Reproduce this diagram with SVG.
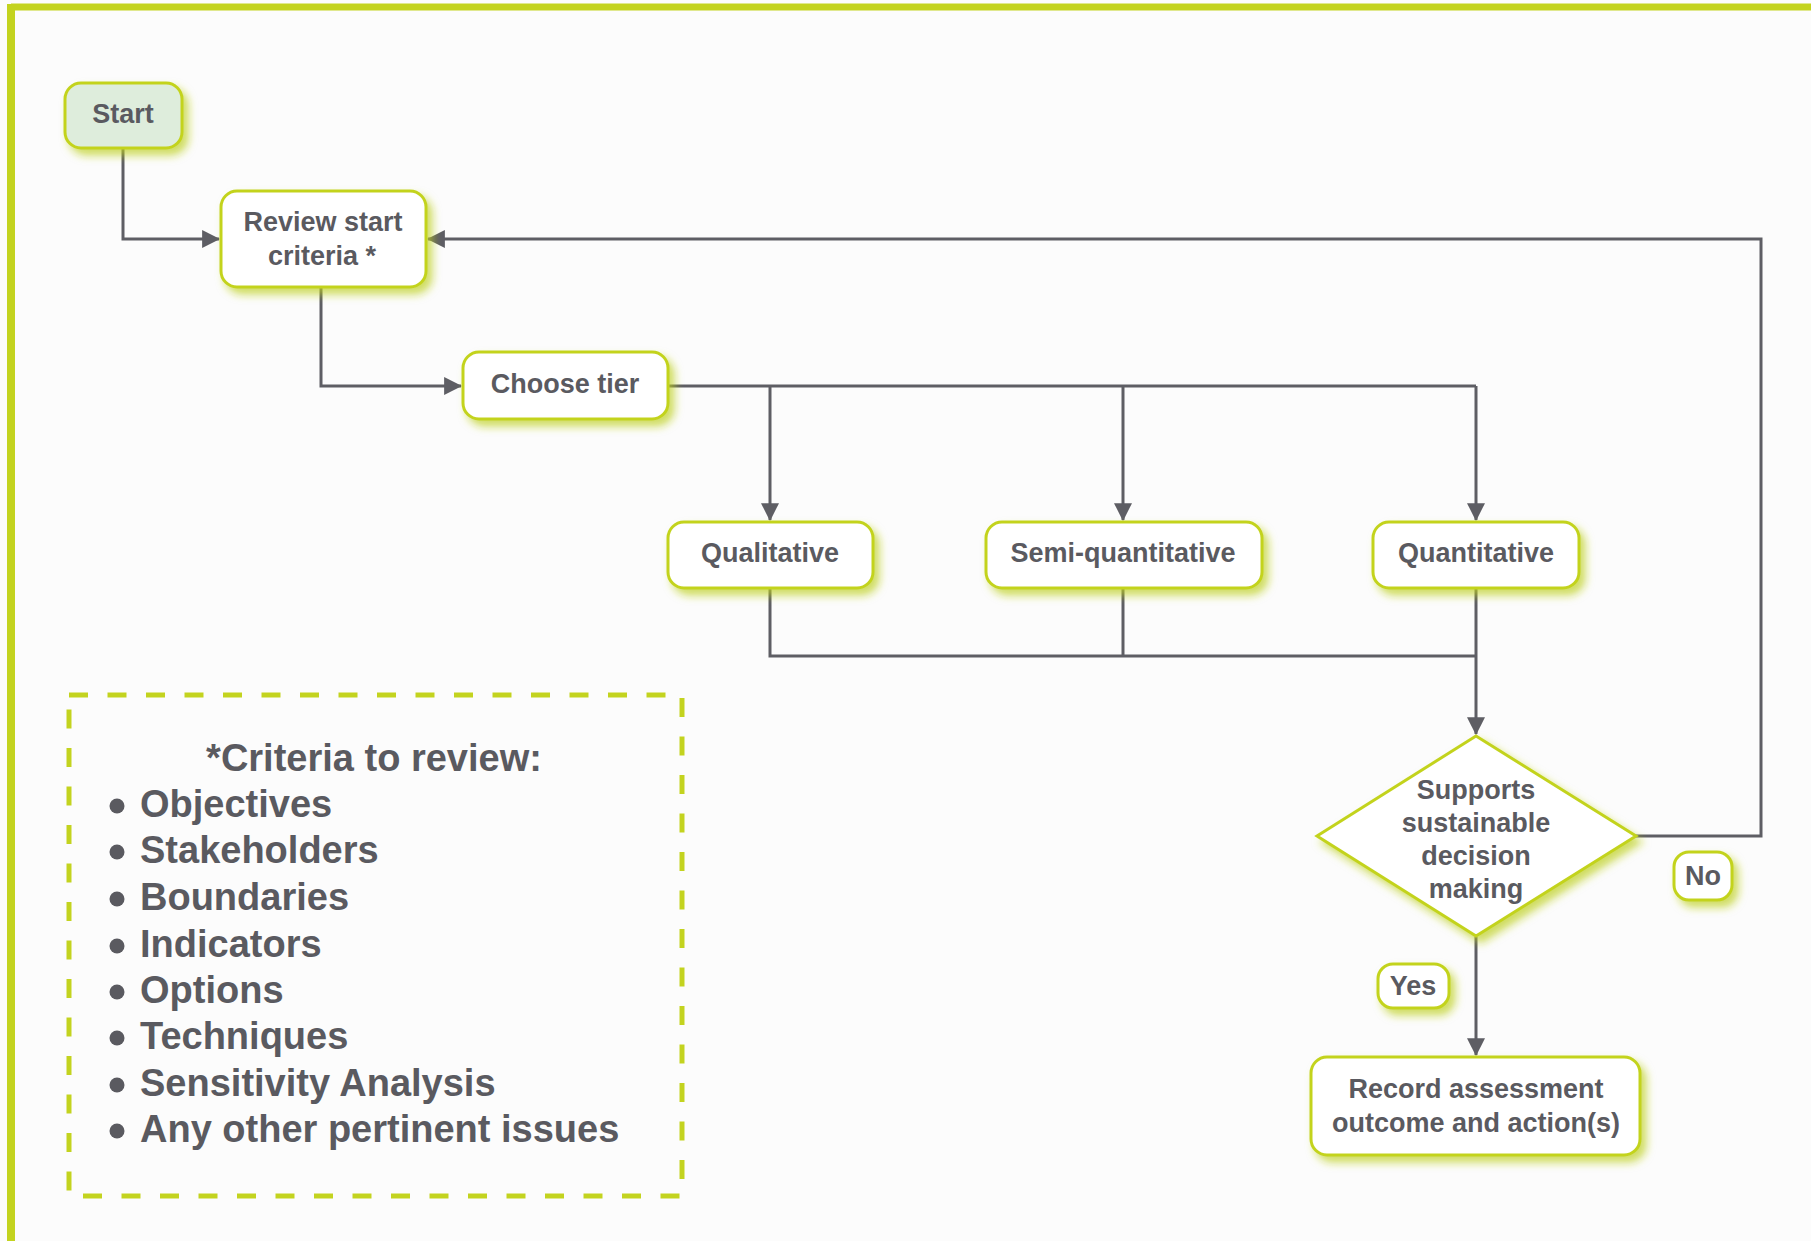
<svg xmlns="http://www.w3.org/2000/svg" width="1811" height="1241" viewBox="0 0 1811 1241">
  <defs>
    <filter id="glow" x="-20%" y="-20%" width="150%" height="160%">
      <feDropShadow dx="5" dy="6" stdDeviation="4" flood-color="#bccf1e" flood-opacity="0.7"/>
    </filter>
    <marker id="arrow" markerUnits="userSpaceOnUse" markerWidth="18" markerHeight="18" viewBox="0 0 16 16" refX="15" refY="8" orient="auto">
      <path d="M0,0 L16,8 L0,16 Z" fill="#5e5e64"/>
    </marker>
    <style>
      .box { fill: #ffffff; stroke: #c3d31f; stroke-width: 3; filter: url(#glow); }
      .start { fill: #deeddc; }
      .lbl { font-family: "Liberation Sans", Arial, sans-serif; font-weight: bold; font-size: 27px; fill: #5a5a60; text-anchor: middle; }
      .legend { font-family: "Liberation Sans", Arial, sans-serif; font-weight: bold; font-size: 38px; fill: #5a5a60; }
      .conn { fill: none; stroke: #5e5e64; stroke-width: 3; }
      .dash { fill: none; stroke: #c3d31f; stroke-width: 5; stroke-dasharray: 19 19.5; }
    </style>
  </defs>

  <!-- page background and frame -->
  <rect x="0" y="0" width="1811" height="1241" fill="#fcfcfc"/>
  <line x1="11" y1="7" x2="1811" y2="7" stroke="#c3d31f" stroke-width="7"/>
  <line x1="11" y1="4" x2="11" y2="1241" stroke="#c3d31f" stroke-width="8"/>

  <!-- connectors -->
  <g id="connectors">
    <path class="conn" d="M123,148 V239 H219" marker-end="url(#arrow)"/>
    <path class="conn" d="M321,287 V386 H461" marker-end="url(#arrow)"/>
    <path class="conn" d="M668,386 H1476"/>
    <path class="conn" d="M770,386 V520" marker-end="url(#arrow)"/>
    <path class="conn" d="M1123,386 V520" marker-end="url(#arrow)"/>
    <path class="conn" d="M1476,386 V520" marker-end="url(#arrow)"/>
    <path class="conn" d="M770,588 V656 H1476"/>
    <path class="conn" d="M1123,588 V656"/>
    <path class="conn" d="M1476,588 V734" marker-end="url(#arrow)"/>
    <path class="conn" d="M1636,836 H1761 V239 H428" marker-end="url(#arrow)"/>
    <path class="conn" d="M1476,937 V1055" marker-end="url(#arrow)"/>
  </g>

  <g id="start">
    <rect class="box start" x="65" y="83" width="117" height="65" rx="16"/>
    <text class="lbl" x="123" y="123">Start</text>
  </g>

  <g id="review">
    <rect class="box" x="221" y="191" width="205" height="96" rx="16"/>
    <text class="lbl" x="323" y="231">Review start</text>
    <text class="lbl" x="322" y="265">criteria *</text>
  </g>

  <g id="choose-tier">
    <rect class="box" x="463" y="352" width="205" height="67" rx="16"/>
    <text class="lbl" x="565" y="393">Choose tier</text>
  </g>

  <g id="qualitative">
    <rect class="box" x="668" y="522" width="205" height="66" rx="16"/>
    <text class="lbl" x="770" y="562">Qualitative</text>
  </g>

  <g id="semi-quantitative">
    <rect class="box" x="986" y="522" width="276" height="66" rx="16"/>
    <text class="lbl" x="1123" y="562">Semi-quantitative</text>
  </g>

  <g id="quantitative">
    <rect class="box" x="1373" y="522" width="206" height="66" rx="16"/>
    <text class="lbl" x="1476" y="562">Quantitative</text>
  </g>

  <g id="decision">
    <polygon class="box" points="1476,736 1636,836 1476,936 1317,836"/>
    <text class="lbl" x="1476" y="799">Supports</text>
    <text class="lbl" x="1476" y="832">sustainable</text>
    <text class="lbl" x="1476" y="865">decision</text>
    <text class="lbl" x="1476" y="898">making</text>
  </g>

  <g id="label-no">
    <rect class="box" x="1674" y="852" width="58" height="48" rx="15"/>
    <text class="lbl" x="1703" y="885">No</text>
  </g>

  <g id="label-yes">
    <rect class="box" x="1378" y="964" width="71" height="44" rx="15"/>
    <text class="lbl" x="1413" y="995">Yes</text>
  </g>

  <g id="record">
    <rect class="box" x="1311" y="1057" width="329" height="98" rx="16"/>
    <text class="lbl" x="1476" y="1098">Record assessment</text>
    <text class="lbl" x="1476" y="1132">outcome and action(s)</text>
  </g>

  <!-- criteria note -->
  <g id="criteria-note">
    <rect class="dash" x="69" y="695" width="613" height="501"/>
    <text class="legend" x="374" y="771" text-anchor="middle">*Criteria to review:</text>
    <g fill="#5a5a60">
      <circle cx="117" cy="806" r="7.5"/>
      <circle cx="117" cy="852" r="7.5"/>
      <circle cx="117" cy="899" r="7.5"/>
      <circle cx="117" cy="946" r="7.5"/>
      <circle cx="117" cy="992" r="7.5"/>
      <circle cx="117" cy="1038" r="7.5"/>
      <circle cx="117" cy="1085" r="7.5"/>
      <circle cx="117" cy="1131" r="7.5"/>
    </g>
    <text class="legend" x="140" y="817">Objectives</text>
    <text class="legend" x="140" y="863">Stakeholders</text>
    <text class="legend" x="140" y="910">Boundaries</text>
    <text class="legend" x="140" y="957">Indicators</text>
    <text class="legend" x="140" y="1003">Options</text>
    <text class="legend" x="140" y="1049">Techniques</text>
    <text class="legend" x="140" y="1096">Sensitivity Analysis</text>
    <text class="legend" x="140" y="1142">Any other pertinent issues</text>
  </g>
</svg>
